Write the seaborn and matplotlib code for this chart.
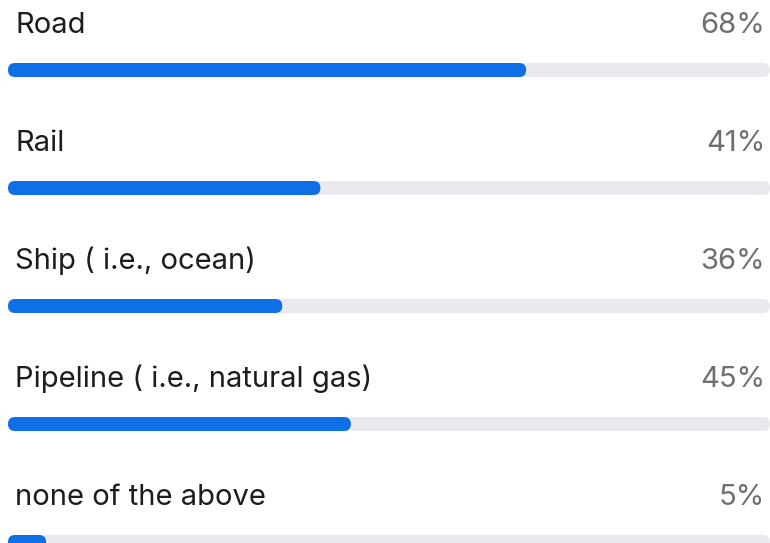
import matplotlib
matplotlib.use("Agg")
import matplotlib.pyplot as plt
from matplotlib.patches import FancyBboxPatch
import seaborn as sns
import pandas as pd

# data
categories = ["Road", "Rail", "Ship ( i.e., ocean)", "Pipeline ( i.e., natural gas)", "none of the above"]
values = [68, 41, 36, 45, 5]
track = [100] * len(categories)

blue = "#0e6fe6"
track_color = "#e9e9ee"
text_color = "#1d1d1f"
pct_color = "#6e6e73"

sns.set_theme(style="white")
plt.rcParams["font.family"] = ["Inter", "DejaVu Sans"]

W, H = 770, 543
fig = plt.figure(figsize=(W / 100, H / 100), dpi=100)
ax = fig.add_axes([0, 0, 1, 1])

df = pd.DataFrame({"cat": categories, "val": values, "track": track})

bar_h = 14 / 118
sns.barplot(data=df, x="track", y="cat", orient="h", color=track_color,
            width=bar_h, ax=ax, saturation=1)
sns.barplot(data=df, x="val", y="cat", orient="h", color=blue,
            width=bar_h, ax=ax, saturation=1)

# pixel -> data mapping
px_x = 100 / 762          # x units per px
px_y = 1 / 118            # y units per px
ax.set_xlim(-8 * px_x, (W - 8) * px_x)
ax.set_ylim((H - 70) * px_y, -70 * px_y)

# swap rectangles for rounded ones
rects = list(ax.patches)
for r in rects:
    x0, y0 = r.get_x(), r.get_y()
    w, h = r.get_width(), r.get_height()
    fc = r.get_facecolor()
    r.remove()
    ax.add_patch(FancyBboxPatch((x0, y0), w, h,
                                boxstyle=f"round,pad=0,rounding_size={7 * px_x}",
                                mutation_aspect=px_y / px_x,
                                facecolor=fc, edgecolor="none"))

for i, (c, v) in enumerate(zip(categories, values)):
    ax.text(7 * px_x, i - 37 * px_y, c, ha="left", va="baseline",
            fontsize=21, color=text_color)
    ax.text(757 * px_x, i - 37 * px_y, f"{v}%", ha="right", va="baseline",
            fontsize=21, color=pct_color)

ax.axis("off")
fig.savefig("out.png", dpi=100)
